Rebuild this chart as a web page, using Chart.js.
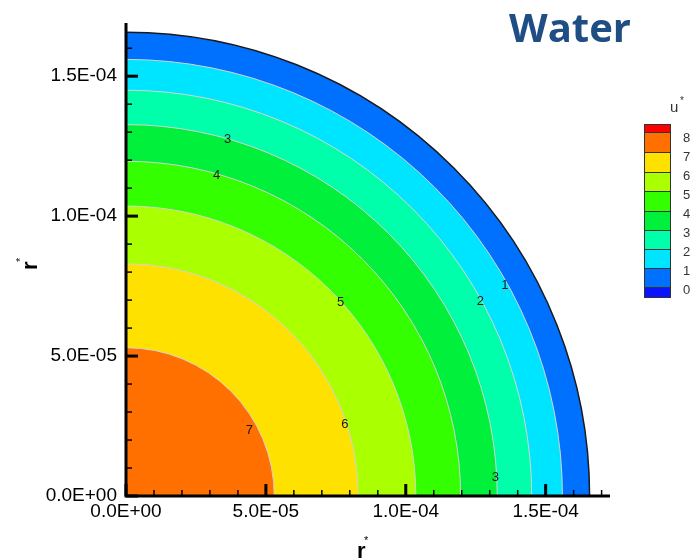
<!DOCTYPE html>
<html>
<head>
<meta charset="utf-8">
<script src="https://cdn.jsdelivr.net/npm/chart.js@4.4.1/dist/chart.umd.min.js"></script>
<style>
    html, body { margin: 0; padding: 0; background: #fff; }
    #contenedor { position: relative; width: 694px; height: 560px; }
</style>
</head>
<body>
<div id="contenedor"><canvas id="grafica" width="694" height="560"></canvas></div>
<script>
// niveles de u* y el radio r* donde cae cada contorno
const niveles = [0, 1, 2, 3, 4, 5, 6, 7];
const radios = [1.657e-4, 1.560e-4, 1.450e-4, 1.327e-4, 1.196e-4, 1.036e-4, 8.30e-5, 5.30e-5];
const coloresBanda = ['#0070ff', '#00e5ff', '#00ffaa', '#00f03c', '#33ff00', '#aaff00', '#ffe100', '#ff7000'];

// etiquetas escritas sobre las lineas de contorno
const etiquetasTexto = ['7', '6', '5', '4', '3', '3', '2', '1'];
const etiquetasX = [4.41e-5, 7.82e-5, 7.67e-5, 3.24e-5, 3.63e-5, 13.2e-5, 12.67e-5, 13.54e-5];
const etiquetasY = [2.36e-5, 2.54e-5, 6.92e-5, 11.46e-5, 12.75e-5, 0.65e-5, 6.94e-5, 7.54e-5];

// leyenda de colores
const leyendaNiveles = ['8', '7', '6', '5', '4', '3', '2', '1', '0'];
const leyendaColores = ['#ff0000', '#ff7000', '#ffe100', '#aaff00', '#33ff00', '#00f03c', '#00ffaa', '#00e5ff', '#0070ff', '#0a14ff'];

const ejeXMax = 1.73e-4;
const ejeYMax = 1.69e-4;
const paso = 1e-5;

const FUENTE = '"Liberation Sans", Arial, sans-serif';

function formatoExp(v) {
    const n = Math.round(v / paso);
    if (n % 5 !== 0) return '';
    const partes = (n * paso).toExponential(1).split('e');
    const exp = parseInt(partes[1], 10);
    const signo = exp < 0 ? '-' : '+';
    return partes[0] + 'E' + signo + String(Math.abs(exp)).padStart(2, '0');
}

const pluginContornos = {
    id: 'contornos',
    beforeDatasetsDraw(chart) {
        const { ctx, chartArea, scales: { x, y } } = chart;
        const cx = x.getPixelForValue(0);
        const cy = y.getPixelForValue(0);
        ctx.save();
        ctx.beginPath();
        ctx.rect(chartArea.left, chartArea.top, chartArea.width, chartArea.height);
        ctx.clip();

        radios.forEach((r, i) => {
            const rx = x.getPixelForValue(r) - cx;
            const ry = cy - y.getPixelForValue(r);
            ctx.beginPath();
            ctx.moveTo(cx, cy);
            ctx.ellipse(cx, cy, rx, ry, 0, -Math.PI / 2, 0);
            ctx.closePath();
            ctx.fillStyle = coloresBanda[i];
            ctx.fill();
        });

        radios.forEach((r, i) => {
            const rx = x.getPixelForValue(r) - cx;
            const ry = cy - y.getPixelForValue(r);
            ctx.beginPath();
            ctx.ellipse(cx, cy, rx, ry, 0, -Math.PI / 2, 0);
            ctx.strokeStyle = i === 0 ? '#1a1a1a' : '#d4d4d4';
            ctx.lineWidth = i === 0 ? 1.5 : 1;
            ctx.stroke();
        });
        ctx.restore();
    },
    afterDatasetsDraw(chart) {
        const { ctx, chartArea, scales: { x, y } } = chart;
        ctx.save();

        // texto de los contornos
        const meta = chart.getDatasetMeta(0);
        ctx.font = '13px ' + FUENTE;
        ctx.fillStyle = '#1a1a1a';
        ctx.textAlign = 'center';
        ctx.textBaseline = 'middle';
        meta.data.forEach((p, i) => ctx.fillText(etiquetasTexto[i], p.x, p.y));

        // ejes con marcas hacia adentro
        ctx.strokeStyle = '#000';
        ctx.lineWidth = 3;
        ctx.beginPath();
        ctx.moveTo(chartArea.left, chartArea.top);
        ctx.lineTo(chartArea.left, chartArea.bottom);
        ctx.lineTo(chartArea.right, chartArea.bottom);
        ctx.stroke();

        x.ticks.forEach(t => {
            const mayor = Math.round(t.value / paso) % 5 === 0;
            const px = x.getPixelForValue(t.value);
            ctx.lineWidth = mayor ? 3 : 1.5;
            ctx.beginPath();
            ctx.moveTo(px, chartArea.bottom);
            ctx.lineTo(px, chartArea.bottom - (mayor ? 12 : 6));
            ctx.stroke();
        });
        y.ticks.forEach(t => {
            const mayor = Math.round(t.value / paso) % 5 === 0;
            const py = y.getPixelForValue(t.value);
            ctx.lineWidth = mayor ? 3 : 1.5;
            ctx.beginPath();
            ctx.moveTo(chartArea.left, py);
            ctx.lineTo(chartArea.left + (mayor ? 12 : 6), py);
            ctx.stroke();
        });

        // titulos de ejes r*
        ctx.fillStyle = '#000';
        ctx.textAlign = 'left';
        ctx.textBaseline = 'alphabetic';
        ctx.font = 'bold 22px ' + FUENTE;
        ctx.fillText('r', 357, 558);
        ctx.font = '11px ' + FUENTE;
        ctx.fillText('*', 364, 544);

        ctx.save();
        ctx.translate(37, 270);
        ctx.rotate(-Math.PI / 2);
        ctx.font = 'bold 22px ' + FUENTE;
        ctx.fillText('r', 0, 0);
        ctx.font = '11px ' + FUENTE;
        ctx.fillText('*', 8, -13);
        ctx.restore();

        // titulo
        ctx.font = 'bold 40px "Open Sans", sans-serif';
        ctx.fillStyle = '#1f4e84';
        ctx.textAlign = 'right';
        ctx.fillText('Water', 631, 42);

        // leyenda
        const lx = 644, ancho = 27;
        const alturas = [8, 20, 20, 19, 20, 19, 19, 19, 19, 10];
        let ly = 124;
        alturas.forEach((h, i) => {
            ctx.fillStyle = leyendaColores[i];
            ctx.fillRect(lx, ly, ancho, h);
            ctx.strokeStyle = '#333';
            ctx.lineWidth = 1;
            ctx.strokeRect(lx + 0.5, ly + 0.5, ancho - 1, h);
            ly += h;
        });
        ctx.fillStyle = '#333';
        ctx.font = '13px ' + FUENTE;
        ctx.textAlign = 'left';
        ctx.textBaseline = 'middle';
        leyendaNiveles.forEach((t, i) => ctx.fillText(t, 683, 138 + i * 19));
        ctx.font = '15px ' + FUENTE;
        ctx.fillText('u', 670, 108);
        ctx.font = '10px ' + FUENTE;
        ctx.fillText('*', 680, 101);

        ctx.restore();
    }
};

new Chart(document.getElementById('grafica'), {
    type: 'scatter',
    data: {
        datasets: [{
            data: etiquetasX.map((v, i) => ({ x: v, y: etiquetasY[i] })),
            pointRadius: 0,
            showLine: false
        }]
    },
    options: {
        responsive: false,
        animation: false,
        layout: { padding: { top: 23, right: 84, left: 0, bottom: 0 } },
        plugins: { legend: { display: false }, tooltip: { enabled: false } },
        scales: {
            x: {
                type: 'linear', min: 0, max: ejeXMax,
                grid: { drawOnChartArea: false, drawTicks: false },
                border: { display: false },
                ticks: {
                    stepSize: paso, includeBounds: false, autoSkip: false, maxRotation: 0,
                    padding: 4, color: '#000', font: { family: FUENTE, size: 19 },
                    callback: formatoExp
                },
                afterFit(s) { s.height = 64; }
            },
            y: {
                type: 'linear', min: 0, max: ejeYMax,
                grid: { drawOnChartArea: false, drawTicks: false },
                border: { display: false },
                ticks: {
                    stepSize: paso, includeBounds: false, autoSkip: false,
                    padding: 9, color: '#000', font: { family: FUENTE, size: 19 },
                    callback: formatoExp
                },
                afterFit(s) { s.width = 126; }
            }
        }
    },
    plugins: [pluginContornos]
});
</script>
</body>
</html>
